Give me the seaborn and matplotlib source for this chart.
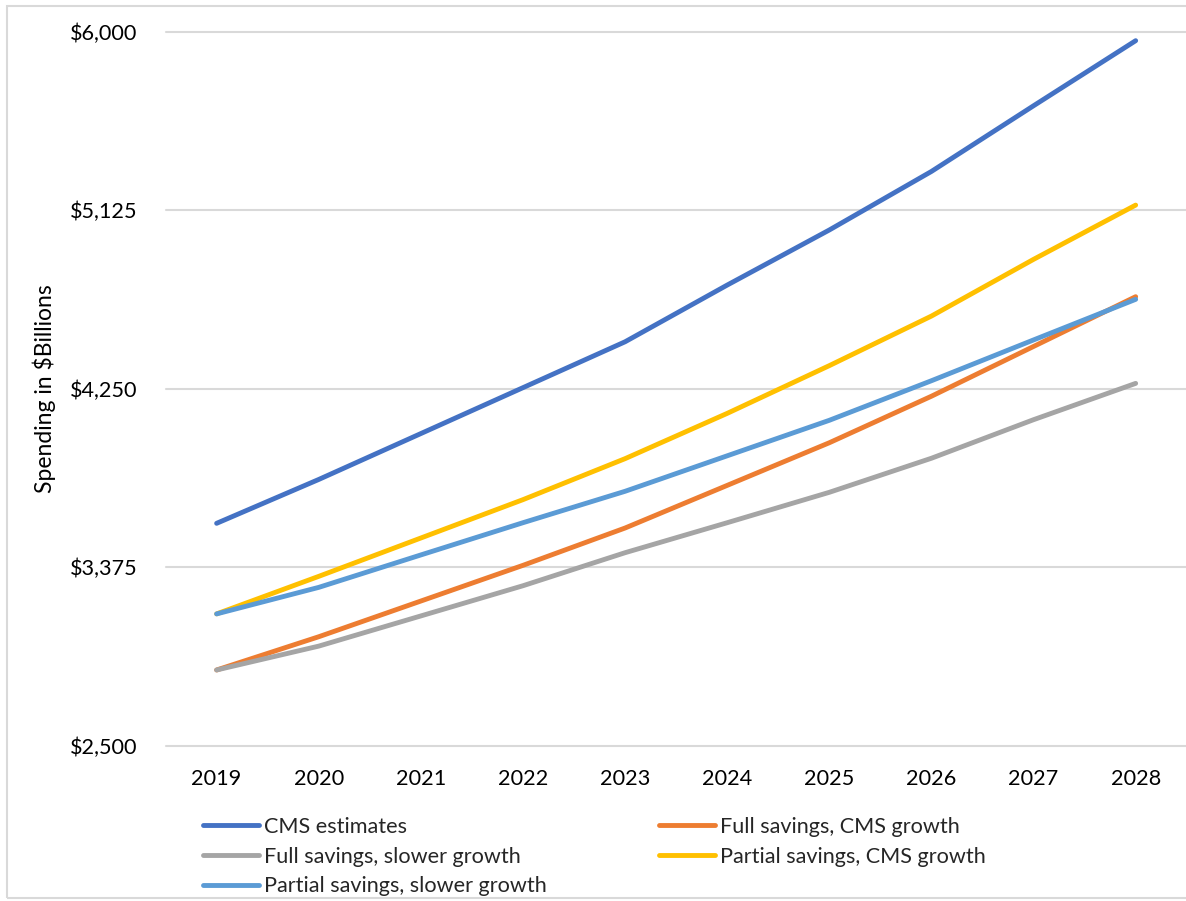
import matplotlib
matplotlib.use("Agg")
import matplotlib.pyplot as plt
from matplotlib.lines import Line2D
from matplotlib.patches import Rectangle
from matplotlib.ticker import FuncFormatter
import pandas as pd
import seaborn as sns

# Projected national health spending, $ billions
years = [2019, 2020, 2021, 2022, 2023, 2024, 2025, 2026, 2027, 2028]
cms_estimates = [3590, 3805, 4030, 4255, 4480, 4758, 5028, 5315, 5637, 5956]
full_cms_growth = [2871, 3034, 3209, 3384, 3567, 3776, 3985, 4213, 4457, 4701]
full_slower_growth = [2871, 2988, 3136, 3284, 3446, 3593, 3742, 3909, 4098, 4276]
partial_cms_growth = [3146, 3330, 3518, 3706, 3907, 4129, 4363, 4606, 4884, 5150]
partial_slower_growth = [3146, 3276, 3435, 3593, 3747, 3921, 4095, 4289, 4489, 4688]

scenarios = [
    "CMS estimates",
    "Full savings, CMS growth",
    "Full savings, slower growth",
    "Partial savings, CMS growth",
    "Partial savings, slower growth",
]
series = [cms_estimates, full_cms_growth, full_slower_growth,
          partial_cms_growth, partial_slower_growth]
colors = ["#4472C4", "#ED7D31", "#A5A5A5", "#FFC000", "#5B9BD5"]
y_ticks = [2500, 3375, 4250, 5125, 6000]

df = pd.DataFrame(
    [(s, y, v) for s, vals in zip(scenarios, series) for y, v in zip(years, vals)],
    columns=["Scenario", "Year", "Spending"],
)

sns.set_theme(style="white")
plt.rcParams["font.family"] = ["Lato", "DejaVu Sans"]

grid_color = "#D9D9D9"
lw = 3.5
fs = 15.6

fig = plt.figure(figsize=(11.86, 9.01), dpi=100)
ax = fig.add_axes([0.1396, 0.1724, 0.8610, 0.7924])

sns.lineplot(
    data=df, x="Year", y="Spending", hue="Scenario", hue_order=scenarios,
    palette=dict(zip(scenarios, colors)), linewidth=lw,
    solid_capstyle="round", legend=False, ax=ax,
)

ax.set_xlim(years[0] - 0.5, years[-1] + 0.5)
ax.set_ylim(y_ticks[0], y_ticks[-1])
ax.set_xticks(years)
ax.set_xticklabels([str(y) for y in years])
ax.set_yticks(y_ticks)
ax.yaxis.set_major_formatter(FuncFormatter(lambda v, _: f"${v:,.0f}"))

ax.grid(axis="y", color=grid_color, linewidth=1.5)
ax.set_axisbelow(True)
for gl in ax.yaxis.get_gridlines():
    gl.set_clip_on(False)
for side in ["top", "right", "left", "bottom"]:
    ax.spines[side].set_visible(False)

ax.tick_params(axis="y", length=0, pad=20, labelsize=fs, labelcolor="black")
ax.tick_params(axis="x", length=0, pad=17, labelsize=fs, labelcolor="black")
ax.set_xlabel("")
ax.set_ylabel("Spending in $Billions", fontsize=16.5, color="black")
ax.yaxis.set_label_coords(-0.1075, 0.5)

# Legend split into two columns laid out row by row
def handle(c):
    return Line2D([0], [0], color=c, linewidth=lw, solid_capstyle="round")

left_idx = [0, 2, 4]
right_idx = [1, 3]
common = dict(
    loc="upper left", frameon=False, fontsize=fs, handlelength=2.6,
    handletextpad=0.2, labelspacing=0.45, borderpad=0, borderaxespad=0,
    bbox_transform=fig.transFigure,
)
leg1 = fig.legend([handle(colors[i]) for i in left_idx],
                  [scenarios[i] for i in left_idx],
                  bbox_to_anchor=(203 / 1186, 1 - 817 / 901), **common)
leg2 = fig.legend([handle(colors[i]) for i in right_idx],
                  [scenarios[i] for i in right_idx],
                  bbox_to_anchor=(659 / 1186, 1 - 817 / 901), **common)

# Chart area border
fig.patches.append(Rectangle((6.5 / 1186, 1 - 898.3 / 901), 1.1, 892.8 / 901,
                             transform=fig.transFigure, fill=False,
                             edgecolor=grid_color, linewidth=1.5))

fig.savefig("out.png", dpi=100)
